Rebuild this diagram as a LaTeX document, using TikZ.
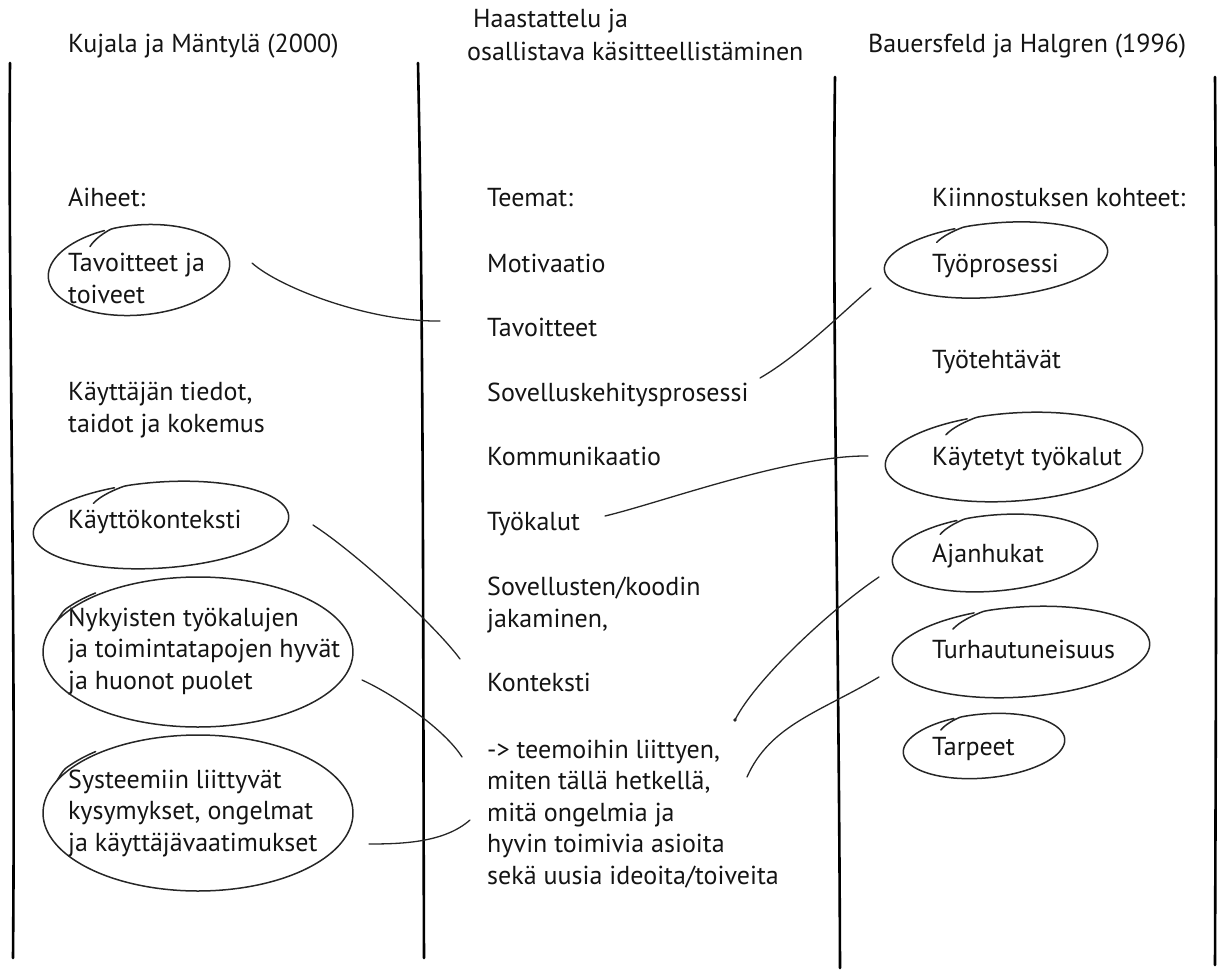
\documentclass[tikz,border=0pt]{standalone}
\usepackage{fontspec}
\setmainfont{PT Sans}
\usetikzlibrary{calc}

% hand-drawn loop around a label: name, cx, cy, rx, ry, tilt
% single-tick variant: the stroke starts a little inside and merges into the outline
\newcommand\ringone[6]{%
  \coordinate (#1) at (#2,#3);
  \draw[ringline] plot[smooth, samples=110, domain=0:380, variable=\u]
    ({#2 + tickr(130-\u)*(#4*cos(130-\u)*cos(#6) - #5*sin(130-\u)*sin(#6))},
     {#3 - tickr(130-\u)*(#4*cos(130-\u)*sin(#6) + #5*sin(130-\u)*cos(#6))});
}
% double-stroke variant: the end of the stroke runs alongside its start
\newcommand\ringtwo[6]{%
  \coordinate (#1) at (#2,#3);
  \draw[ringline] plot[smooth, samples=120, domain=0:387, variable=\u]
    ({#2 + dblr(157-\u)*(#4*cos(157-\u)*cos(#6) - #5*sin(157-\u)*sin(#6))},
     {#3 - dblr(157-\u)*(#4*cos(157-\u)*sin(#6) + #5*sin(157-\u)*cos(#6))});
}

\begin{document}
\begin{tikzpicture}[x=1pt, y=-1pt,
  declare function={
    tickr(\t) = 1 - 0.008*max(0, \t-105);
    dblr(\t)  = 1 + 0.028*min(1, max(0, -205-\t)/8);
  },
  txt/.style={anchor=base west, inner sep=0pt, align=left,
              font=\fontsize{26}{31.5}\selectfont, text=black!92},
  rule/.style={line width=2.6pt, line cap=round},
  ringline/.style={line width=1.5pt, line cap=round, line join=round, black!85},
  link/.style={line width=1.3pt, line cap=round, black!85}]

\useasboundingbox (0,0) rectangle (1219,970);

% column rules
\draw[rule] (10,63) .. controls (8,300) and (16,600) .. (13,958);
\draw[rule] (418,63) .. controls (424,350) and (423,700) .. (424,958);
\draw[rule] (835,77) .. controls (832,300) and (839,650) .. (840,968);
\draw[rule] (1215,77) .. controls (1217,350) and (1216,700) .. (1215,965);

% headers
\node[txt] (hKujala) at (68,52) {Kujala ja Mäntylä (2000)};
\node[txt] (hHaas1) at (473,27) {Haastattelu ja};
\node[txt] (hHaas2) at (467,60) {osallistava käsitteellistäminen};
\node[txt] (hBauer) at (868,52) {Bauersfeld ja Halgren (1996)};

% left column (multi-line labels are placed by the baseline of their last line)
\node[txt] (lAiheet) at (68,206) {Aiheet:};
\node[txt] (lTav) at (68,303) {Tavoitteet ja\\toiveet};
\node[txt] (lTiedot) at (68,432) {Käyttäjän tiedot,\\taidot ja kokemus};
\node[txt] (lKont) at (68,528) {Käyttökonteksti};
\node[txt] (lNyky) at (68,689) {Nykyisten työkalujen\\ja toimintatapojen hyvät\\ja huonot puolet};
\node[txt] (lSyst) at (68,851) {Systeemiin liittyvät\\kysymykset, ongelmat\\ja käyttäjävaatimukset};

% middle column
\node[txt] (mTeemat) at (487,206) {Teemat:};
\node[txt] (mMot) at (487,272) {Motivaatio};
\node[txt] (mTav) at (487,336) {Tavoitteet};
\node[txt] (mSov) at (487,401) {Sovelluskehitysprosessi};
\node[txt] (mKomm) at (487,465) {Kommunikaatio};
\node[txt] (mTyok) at (487,530) {Työkalut};
\node[txt] (mJako) at (487,627) {Sovellusten/koodin\\jakaminen,};
\node[txt] (mKont) at (487,691) {Konteksti};
\node[txt] (mArrow) at (487,884) {-> teemoihin liittyen,\\miten tällä hetkellä,\\mitä ongelmia ja\\hyvin toimivia asioita\\sekä uusia ideoita/toiveita};

% right column
\node[txt] (rKohteet) at (932,206) {Kiinnostuksen kohteet:};
\node[txt] (rProsessi) at (932,272) {Työprosessi};
\node[txt] (rTehtavat) at (932,368) {Työtehtävät};
\node[txt] (rTyokalut) at (932,465) {Käytetyt työkalut};
\node[txt] (rAjan) at (932,562) {Ajanhukat};
\node[txt] (rTurha) at (932,658) {Turhautuneisuus};
\node[txt] (rTarpeet) at (932,755) {Tarpeet};

% loops around the chosen items
\ringone{eTav}{139}{270}{91}{45}{5}
\ringone{eKont}{161}{525}{128}{43}{4}
\ringtwo{eNyky}{198}{652}{155}{75}{0}
\ringtwo{eSyst}{198}{813}{155}{78}{0}
\ringone{eProsessi}{996}{260}{112}{37}{5}
\ringone{eTyokalut}{1014}{457}{129}{44}{4}
\ringone{eAjan}{995}{553}{103}{38}{5}
\ringone{eTurha}{1021}{652}{129}{45}{4}
\ringone{eTarpeet}{984}{746}{81}{32}{5}

% connector ends
\coordinate (aS) at ($(eTav)+(113,-7)$);
\coordinate (aE) at ($(mTav.base west)+(-47,-15)$);
\coordinate (bS) at ($(mSov.base west)+(273,-23)$);
\coordinate (bE) at ($(eProsessi)+(-125,28)$);
\coordinate (cS) at ($(mTyok.base west)+(118,-14)$);
\coordinate (cE) at ($(eTyokalut)+(-146,-1)$);
\coordinate (dS) at ($(eKont)+(152,0)$);
\coordinate (dE) at ($(mKont.base west)+(-27,-32)$);
\coordinate (eS) at ($(eNyky)+(164,28)$);
\coordinate (eE) at ($(mArrow.base west)+(-25,-127)$);
\coordinate (fS) at ($(eSyst)+(171,31)$);
\coordinate (fE) at ($(mArrow.base west)+(-17,-64)$);
\coordinate (gS) at ($(eAjan)+(-116,24)$);
\coordinate (gE) at ($(mArrow.base west)+(248,-164)$);
\coordinate (hS) at ($(eTurha)+(-142,25)$);
\coordinate (hE) at ($(mArrow.base west)+(260,-107)$);

% connectors
\draw[link] (aS) .. controls +(28,25) and +(-70,1) .. (aE);
\draw[link] (bS) .. controls +(40,-23) and +(-26,22) .. (bE);
\draw[link] (cS) .. controls +(55,-13) and +(-78,-1) .. (cE);
\draw[link] (dS) .. controls +(42,27) and +(-25,-34) .. (dE);
\draw[link] (eS) .. controls +(33,15) and +(-17,-27) .. (eE);
\draw[link] (fS) .. controls +(36,0) and +(-25,22) .. (fE);
\draw[link] (gS) .. controls +(-49,33) and +(20,-40) .. (gE);
\fill[black!85] (gE) circle (1.8);
\draw[link] (hS) .. controls +(-59,35) and +(23,-52) .. (hE);

\end{tikzpicture}
\end{document}
